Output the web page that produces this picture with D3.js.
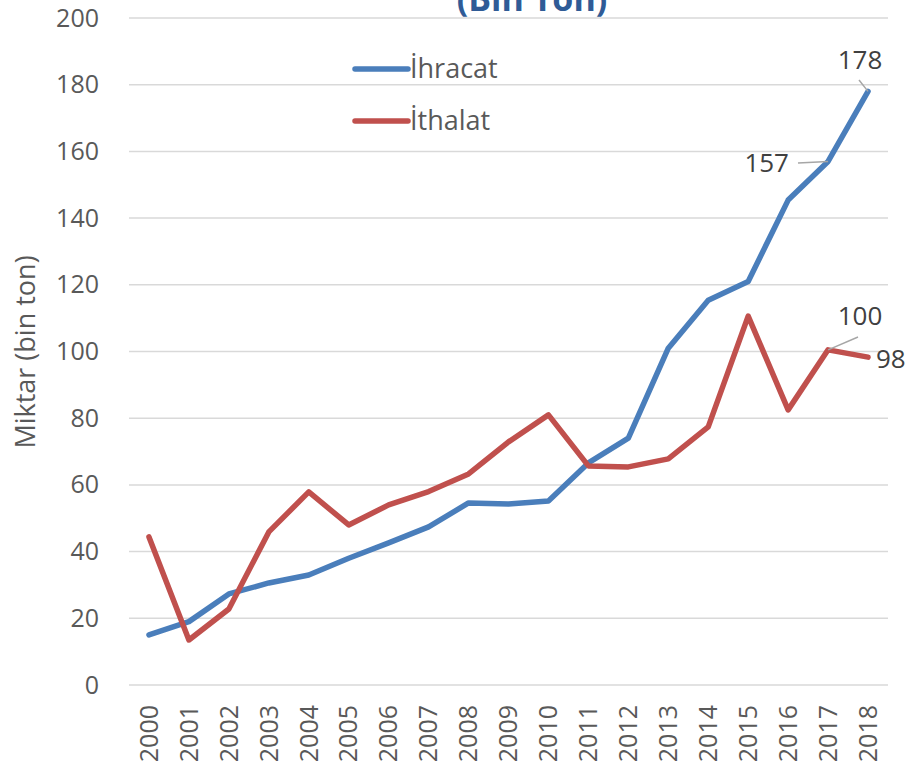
<!DOCTYPE html>
<html>
<head>
<meta charset="utf-8">
<script src="https://cdn.jsdelivr.net/npm/d3@7"></script>
<style>
  body { margin: 0; background: #fff; }
  text { font-family: "Open Sans", "Noto Sans", sans-serif; }
</style>
</head>
<body>
<div class="g-chart"></div>
<script>
//Local data
var years = ["2000","2001","2002","2003","2004","2005","2006","2007","2008","2009",
             "2010","2011","2012","2013","2014","2015","2016","2017","2018"];
var ihracat = [15, 19, 27.3, 30.6, 33, 38, 42.6, 47.4, 54.6, 54.3, 55.2, 66.6, 74, 101, 115.4, 121, 145.4, 157, 178];
var ithalat = [44.4, 13.5, 22.8, 45.9, 57.9, 48, 54, 58, 63.3, 72.9, 81, 65.7, 65.4, 67.8, 77.4, 110.6, 82.5, 100.5, 98.3];
var yTicks = [0, 20, 40, 60, 80, 100, 120, 140, 160, 180, 200];
var seriesNames = ["İhracat", "İthalat"];
var seriesColors = ["#4A7EBB", "#C0504D"];

//Margin conventions
var margin = {top: 18, right: 20, bottom: 88, left: 129};
var width = 908 - margin.left - margin.right,
    height = 773 - margin.top - margin.bottom;

var svg = d3.select(".g-chart").append("svg")
  .attr("width", 908)
  .attr("height", 773);

var g = svg.append("g")
  .attr("transform", "translate(" + margin.left + "," + margin.top + ")");

//Scales
var xScale = d3.scaleBand()
  .domain(years)
  .range([0, 759]);

var yScale = d3.scaleLinear()
  .domain([0, 200])
  .range([height, 0]);

function xc(d) { return xScale(d) + xScale.bandwidth() / 2; }

//Gridlines
g.selectAll(".grid")
  .data(yTicks)
  .enter().append("line")
  .attr("x1", 0)
  .attr("x2", 759)
  .attr("y1", function(d) { return yScale(d); })
  .attr("y2", function(d) { return yScale(d); })
  .style("stroke", "#d9d9d9")
  .style("stroke-width", 1.5);

//Y axis
var yAxis = d3.axisLeft(yScale)
  .tickValues(yTicks)
  .tickSize(0)
  .tickPadding(30);

var yAxisGroup = g.append("g")
  .attr("class", "y axis")
  .call(yAxis);
yAxisGroup.select(".domain").remove();
yAxisGroup.selectAll("text")
  .style("font-size", "25px")
  .style("fill", "#595959")
  .style("font-family", "'Open Sans', sans-serif");

//X axis
var xAxis = d3.axisBottom(xScale).tickSize(0).tickPadding(0);
var xAxisGroup = g.append("g")
  .attr("class", "x axis")
  .attr("transform", "translate(0," + yScale(0) + ")")
  .call(xAxis);
xAxisGroup.select(".domain").remove();
xAxisGroup.selectAll("text")
  .attr("transform", "rotate(-90)")
  .attr("x", -20)
  .attr("y", 0)
  .attr("dy", "0.35em")
  .style("text-anchor", "end")
  .style("font-size", "25px")
  .style("fill", "#595959")
  .style("font-family", "'Open Sans', sans-serif");

//Lines
var line = d3.line()
  .x(function(d, i) { return xc(years[i]); })
  .y(function(d) { return yScale(d); });

[ihracat, ithalat].forEach(function(s, i) {
  g.append("path")
    .datum(s)
    .attr("d", line)
    .style("fill", "none")
    .style("stroke", seriesColors[i])
    .style("stroke-width", 5.5)
    .style("stroke-linejoin", "round")
    .style("stroke-linecap", "round");
});

//Legend
var legend = svg.selectAll(".legend")
  .data(seriesNames)
  .enter().append("g")
  .attr("transform", function(d, i) { return "translate(355," + (69 + i * 52) + ")"; });
legend.append("line")
  .attr("x1", 0).attr("x2", 53)
  .style("stroke", function(d, i) { return seriesColors[i]; })
  .style("stroke-width", 5.5)
  .style("stroke-linecap", "round");
legend.append("text")
  .attr("x", 55)
  .attr("dy", "0.35em")
  .text(function(d) { return d; })
  .style("font-size", "27px")
  .style("fill", "#595959");

//Data labels with leader lines
var labels = [
  {s: ihracat, i: 18, text: "178", tx: 860, ty: 60, anchor: "middle", lx: 859, ly: 80},
  {s: ihracat, i: 17, text: "157", tx: 789, ty: 163, anchor: "end", lx: 798, ly: 163},
  {s: ithalat, i: 17, text: "100", tx: 860, ty: 316, anchor: "middle", lx: 858, ly: 337},
  {s: ithalat, i: 18, text: "98", tx: 876, ty: 359, anchor: "start", lx: null, ly: null}
];
labels.forEach(function(l) {
  var px = margin.left + xc(years[l.i]), py = margin.top + yScale(l.s[l.i]);
  if (l.lx !== null) {
    svg.append("line")
      .attr("x1", l.lx).attr("y1", l.ly)
      .attr("x2", px).attr("y2", py)
      .style("stroke", "#a6a6a6")
      .style("stroke-width", 1.5);
  }
  svg.append("text")
    .attr("x", l.tx).attr("y", l.ty)
    .attr("dy", "0.35em")
    .style("text-anchor", l.anchor)
    .style("font-size", "26px")
    .style("fill", "#404040")
    .text(l.text);
});

//Y axis title
svg.append("text")
  .attr("transform", "translate(26,352) rotate(-90)")
  .attr("dy", "0.35em")
  .style("text-anchor", "middle")
  .style("font-size", "27px")
  .style("fill", "#595959")
  .style("font-family", "'Open Sans', sans-serif")
  .text("Miktar (bin ton)");

//Chart title (cut at top)
svg.append("text")
  .attr("x", 532)
  .attr("y", 11)
  .style("text-anchor", "middle")
  .style("font-size", "34px")
  .style("font-weight", "bold")
  .style("fill", "#2F5B96")
  .style("font-family", "'Open Sans', sans-serif")
  .text("(Bin Ton)");
</script>
</body>
</html>
